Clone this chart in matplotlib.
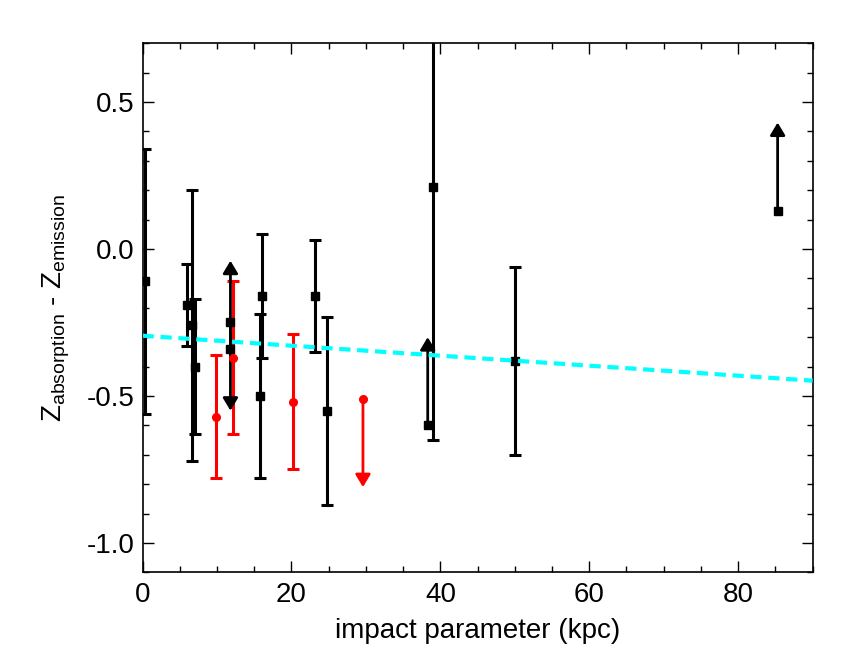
import matplotlib
matplotlib.use("Agg")
import matplotlib.pyplot as plt
import numpy as np

plt.rcParams['font.family'] = ['Liberation Sans', 'DejaVu Sans']
plt.rcParams['mathtext.default'] = 'regular'

# measured points (black) ---------------------------------------------
black_x = [0.3, 6.0, 6.7, 7.0, 15.8, 16.0, 23.1, 24.8, 39.0, 50.0]
black_y = [-0.11, -0.19, -0.26, -0.40, -0.50, -0.16, -0.16, -0.55, 0.21, -0.38]
black_err = [0.45, 0.14, 0.46, 0.23, 0.28, 0.21, 0.19, 0.32, 0.86, 0.32]

# measured points (red)
red_x = [9.8, 12.2, 20.2]
red_y = [-0.57, -0.37, -0.52]
red_err = [0.21, 0.26, 0.23]

# limits: +1 = lower limit (arrow up), -1 = upper limit (arrow down)
blim_x = [11.8, 11.8, 38.3, 85.3]
blim_y = [-0.25, -0.34, -0.60, 0.13]
blim_dir = [-1, 1, 1, 1]
rlim_x = [29.6]
rlim_y = [-0.51]
rlim_dir = [-1]
arrow_len = 0.3

# linear fit
fit_x = [0, 90]
fit_intercept = -0.295
fit_slope = -0.0017

fig = plt.figure(figsize=(8.59, 6.64), dpi=100)
ax = fig.add_axes([0.166, 0.138, 0.780, 0.797])

ax.errorbar(black_x, black_y, yerr=black_err, fmt='s', color='black', ms=5.5,
            elinewidth=2.2, capsize=4.5, capthick=2.2, zorder=3)
ax.errorbar(red_x, red_y, yerr=red_err, fmt='o', color='red', ms=5.5,
            elinewidth=2.2, capsize=4.5, capthick=2.2, zorder=3)


def draw_limits(xs, ys, dirs, color, marker, ms):
    ax.plot(xs, ys, marker, color=color, ms=ms, zorder=3)
    for x, y, d in zip(xs, ys, dirs):
        ax.annotate('', xy=(x, y + d * arrow_len), xytext=(x, y),
                    arrowprops=dict(arrowstyle='-|>,head_length=0.75,head_width=0.45',
                                    color=color, lw=2.0, shrinkA=0, shrinkB=0,
                                    mutation_scale=10), zorder=3)


draw_limits(blim_x, blim_y, blim_dir, 'black', 's', 5.5)
draw_limits(rlim_x, rlim_y, rlim_dir, 'red', 'o', 5.5)

fx = np.array(fit_x)
ax.plot(fx, fit_intercept + fit_slope * fx, '--', color='cyan', lw=3,
        dashes=(2.7, 1.6), zorder=4)

ax.set_xlim(0, 90)
ax.set_ylim(-1.1, 0.7)
ax.set_xticks([0, 20, 40, 60, 80])
ax.set_xticks(np.arange(0, 91, 5), minor=True)
ax.set_yticks([-1.0, -0.5, 0.0, 0.5])
ax.set_yticklabels(['-1.0', '-0.5', '0.0', '0.5'])
ax.set_yticks(np.arange(-1.1, 0.71, 0.1), minor=True)
ax.tick_params(which='both', direction='in', top=True, right=True,
               labelsize=20, width=1)
ax.tick_params(which='major', length=8)
ax.tick_params(which='minor', length=4)
ax.tick_params(axis='x', which='major', pad=7)
ax.tick_params(axis='y', which='major', pad=6)
for s in ax.spines.values():
    s.set_linewidth(1.2)

ax.set_xlabel('impact parameter (kpc)', fontsize=20, labelpad=7)
ax.set_ylabel('Z$_{absorption}$ - Z$_{emission}$', fontsize=20, labelpad=10)

fig.savefig('out.png', dpi=100)
